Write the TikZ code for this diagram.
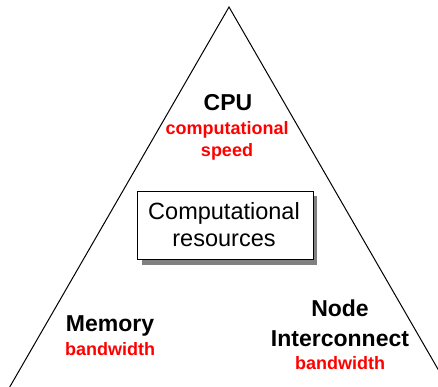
\documentclass[tikz,border=0pt]{standalone}
\usepackage{fontspec}
\setmainfont{Liberation Sans}
\begin{document}
\begin{tikzpicture}[x=1pt,y=-1pt,
  blk/.style={anchor=base,inner sep=0pt,font=\fontsize{23}{26}\selectfont\bfseries},
  red/.style={anchor=base,inner sep=0pt,text=red,font=\fontsize{18}{20}\selectfont\bfseries},
  reg/.style={anchor=base,inner sep=0pt,font=\fontsize{23.5}{26}\selectfont}]
\useasboundingbox (0,0) rectangle (438,387);
\begin{scope}
\clip (0,0) rectangle (438,387);
\coordinate (apex) at (229,7);
\coordinate (bl) at (8,390);
\coordinate (br) at (450,390);
\draw[line width=1pt] (bl) -- (apex) -- (br);
\end{scope}
% box with shadow
\fill[gray] (142,196) rectangle (317,265);
\node[draw,fill=white,line width=1pt,minimum width=176pt,minimum height=68pt,inner sep=0pt] (box) at (225,225) {};
\node[reg] (t1) at (224,219) {Computational};
\node[reg] (t2) at (224,246) {resources};
% CPU
\node[blk] (cpu) at (228,111) {CPU};
\node[red] (cpu1) at (227,134.5) {computational};
\node[red] (cpu2) at (227,156.5) {speed};
% Memory
\node[blk] (mem) at (110,331) {Memory};
\node[red] (mem1) at (110,355) {bandwidth};
% Node interconnect
\node[blk] (nd) at (340,316.5) {Node};
\node[blk] (nd2) at (340,346.5) {Interconnect};
\node[red] (nd3) at (340,369) {bandwidth};
\end{tikzpicture}
\end{document}
